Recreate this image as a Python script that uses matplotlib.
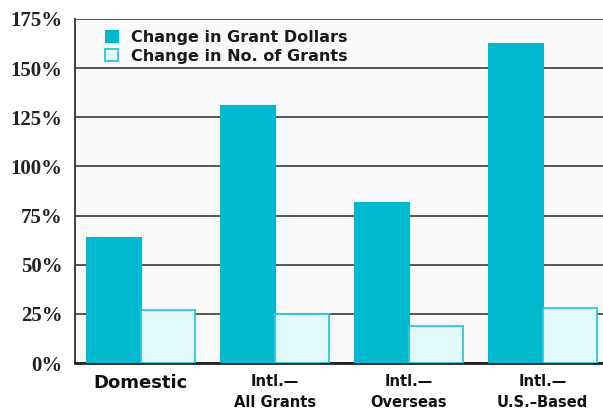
import matplotlib
matplotlib.use("Agg")
import matplotlib.pyplot as plt
import numpy as np

categories = ["Domestic", "Intl.—\nAll Grants", "Intl.—\nOverseas", "Intl.—\nU.S.–Based"]
grant_dollars = [64, 131, 82, 163]
num_grants = [27, 25, 19, 28]
series_names = ["Change in Grant Dollars", "Change in No. of Grants"]
yticks = [0, 25, 50, 75, 100, 125, 150, 175]

dark = "#00B9CF"
light = "#E0FAFC"
light_edge = "#30C6D7"

fig = plt.figure(figsize=(6.03, 4.11), dpi=100)
ax = fig.add_axes([75/603, 48/411, 1 - 75/603, 344/411])
ax.set_facecolor("#F9F9F9")

x = np.arange(len(categories))
w = 0.405
ax.bar(x - w/2, grant_dollars, w, color=dark, edgecolor=dark, linewidth=0.8,
       label=series_names[0], zorder=3)
ax.bar(x + w/2, num_grants, w, color=light, edgecolor=light_edge, linewidth=1.3,
       label=series_names[1], zorder=3)

ax.set_ylim(0, 175)
ax.set_xlim(-0.49, 3.45)
ax.set_yticks(yticks)
ax.set_yticklabels([f"{v}%" for v in yticks], fontfamily="Liberation Serif",
                   fontweight="bold", fontsize=15, color="#222222")
ax.yaxis.grid(True, color="#3a3a3a", linewidth=1.2, zorder=1)
ax.set_axisbelow(True)
ax.tick_params(axis="y", length=0, pad=9)
ax.tick_params(axis="x", length=0, pad=8)
ax.set_xticks(x)
labels = ax.set_xticklabels(categories, fontfamily="DejaVu Sans", fontweight="bold",
                            fontsize=10.5, color="#111111", linespacing=1.5)
labels[0].set_fontsize(13)

for s in ["top", "right"]:
    ax.spines[s].set_visible(False)
ax.spines["left"].set_color("#333333")
ax.spines["left"].set_linewidth(1.3)
ax.spines["bottom"].set_color("#222222")
ax.spines["bottom"].set_linewidth(2)

leg = ax.legend(loc="upper left", bbox_to_anchor=(0.03, 1.01), frameon=False,
                prop={"family": "DejaVu Sans", "weight": "bold", "size": 11.5},
                handlelength=0.8, handleheight=0.8, handletextpad=0.8,
                labelspacing=0.25)
for t in leg.get_texts():
    t.set_color("#1a1a1a")

fig.savefig("out.png", dpi=100)
